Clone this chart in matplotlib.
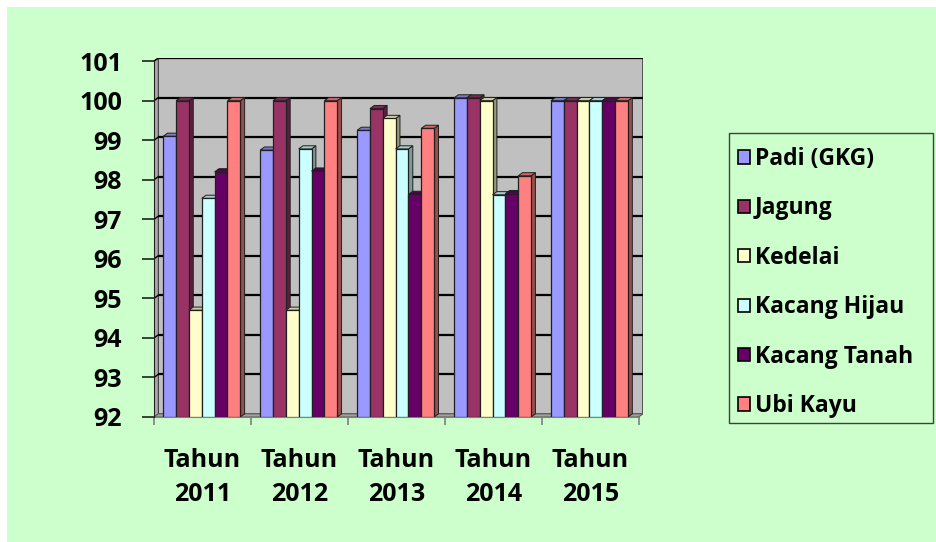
import numpy as np
import matplotlib.pyplot as plt
from matplotlib.patches import Polygon, Rectangle, Patch
from matplotlib.colors import to_rgb

# data
years = ["2011", "2012", "2013", "2014", "2015"]
series_names = ["Padi (GKG)", "Jagung", "Kedelai", "Kacang Hijau", "Kacang Tanah", "Ubi Kayu"]
padi = [99.1, 98.75, 99.25, 100.07, 100.0]
jagung = [100.0, 100.0, 99.8, 100.07, 100.0]
kedelai = [94.7, 94.7, 99.55, 100.0, 100.0]
kacang_hijau = [97.53, 98.78, 98.78, 97.62, 100.0]
kacang_tanah = [98.2, 98.22, 97.63, 97.65, 100.0]
ubi_kayu = [100.0, 100.0, 99.3, 98.1, 100.0]
series_values = [padi, jagung, kedelai, kacang_hijau, kacang_tanah, ubi_kayu]
colors = ["#9999FF", "#993366", "#FFFFCC", "#CCFFFF", "#660066", "#FF8080"]
y_ticks = list(range(92, 102))

BG = "#CCFFCC"
WALL = "#C0C0C0"
FONT = "Open Sans"

y_min, y_max = 92, 101
dx, dy = 0.045, 0.08          # depth offset (x in groups, y in value units)
bar_w = 0.1325
first_off = 0.095


def shade(c, f):
    r, g, b = to_rgb(c)
    return (r * f, g * f, b * f)


W, H = 936, 542
fig = plt.figure(figsize=(W / 100, H / 100), dpi=100)
fig.patch.set_facecolor("white")
fig.patches.append(Rectangle((7 / W, 0), 1, 1 - 7 / H, transform=fig.transFigure,
                             facecolor=BG, edgecolor="none", zorder=-5))

ax = fig.add_axes([154 / W, 1 - 417 / H, 489 / W, 359 / H])
ax.set_facecolor("none")
n_groups = len(years)
ax.set_xlim(0, n_groups + dx)
ax.set_ylim(y_min, y_max + dy)

# back wall, side wall, floor
ax.add_patch(Rectangle((dx, y_min + dy), n_groups, y_max - y_min, facecolor=WALL,
                       edgecolor="#404040", lw=1.2, zorder=0.5))
ax.add_patch(Polygon([(0, y_min), (dx, y_min + dy), (dx, y_max + dy), (0, y_max)],
                     closed=True, facecolor="#A8A8A8", edgecolor="#404040", lw=0.8, zorder=0.6))
ax.add_patch(Polygon([(0, y_min), (n_groups, y_min), (n_groups + dx, y_min + dy), (dx, y_min + dy)],
                     closed=True, facecolor="#A0A0A0", edgecolor="#606060", lw=0.8, zorder=0.6))
ax.add_patch(Rectangle((dx, y_max + dy - 0.03), n_groups, 0.06, facecolor="#404040",
                       edgecolor="none", zorder=0.7))

# gridlines on the back wall and side wall
for v in y_ticks[1:]:
    ax.plot([dx, n_groups + dx], [v + dy, v + dy], color="black", lw=1.6, zorder=0.8,
            solid_capstyle="butt")
    ax.plot([0, dx], [v, v + dy], color="black", lw=1.0, zorder=0.8)

x_groups = np.arange(n_groups)
z = 2
for j, (name, vals, col) in enumerate(zip(series_names, series_values, colors)):
    heights = [v - y_min for v in vals]
    bars = ax.bar(x_groups + first_off + j * bar_w, heights, width=bar_w, bottom=y_min,
                  align="edge", color=col, edgecolor="#202020", lw=0.9, zorder=z)
    for b in bars:
        x0 = b.get_x()
        x1 = x0 + b.get_width()
        top = b.get_y() + b.get_height()
        b.set_zorder(z + 0.3)
        ax.add_patch(Polygon([(x1, y_min), (x1 + dx, y_min + dy), (x1 + dx, top + dy), (x1, top)],
                             closed=True, facecolor=shade(col, 0.6), edgecolor="#202020",
                             lw=0.7, zorder=z + 0.1))
        ax.add_patch(Polygon([(x0, top), (x0 + dx, top + dy), (x1 + dx, top + dy), (x1, top)],
                             closed=True, facecolor=shade(col, 0.8), edgecolor="#202020",
                             lw=0.7, zorder=z + 0.2))
    z += 1

for s in ["top", "right"]:
    ax.spines[s].set_visible(False)
ax.spines["left"].set_bounds(y_min, y_max)
ax.spines["bottom"].set_bounds(0, n_groups)
ax.spines["left"].set_color("#202020")
ax.spines["bottom"].set_color("#808080")
ax.spines["left"].set_zorder(10)

ax.set_yticks(y_ticks)
ax.set_yticklabels([str(v) for v in y_ticks], fontsize=18, fontweight="bold", family=FONT)
ax.tick_params(axis="y", length=9, width=1.2, color="#202020", pad=14)

ax.set_xticks(np.arange(n_groups + 1))
ax.set_xticklabels([])
ax.tick_params(axis="x", which="major", length=6, width=1.2, color="#808080")
ax.set_xticks(x_groups + 0.5, minor=True)
ax.set_xticklabels(["Tahun\n" + y for y in years], minor=True, fontsize=18,
                   fontweight="bold", family=FONT, linespacing=1.5)
ax.tick_params(axis="x", which="minor", length=0, pad=22)

# legend box drawn separately so its size matches the reference
fig.patches.append(Rectangle((729 / W, 1 - 423 / H), 204 / W, 290 / H, transform=fig.transFigure,
                             facecolor=BG, edgecolor="#404040", lw=1.0, zorder=1))
handles = [Patch(facecolor=c, edgecolor="black", lw=1.2) for c in colors]
leg = fig.legend(handles, series_names, loc="upper left",
                 bbox_to_anchor=(738 / W, 1 - 147 / H),
                 prop={"family": FONT, "weight": "bold", "size": 16.5},
                 handlelength=0.52, handleheight=0.52, handletextpad=0.22,
                 labelspacing=1.11, borderpad=0.0, borderaxespad=0,
                 frameon=False)
leg.set_zorder(2)

fig.savefig("out.png", dpi=100, facecolor=fig.get_facecolor())
